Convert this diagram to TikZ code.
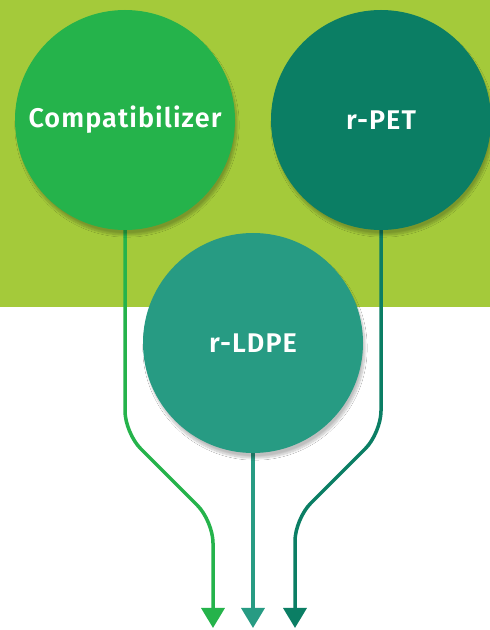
\documentclass[tikz,border=0pt]{standalone}
\usepackage{fontspec}
\setmainfont{Fira Sans}[BoldFont={Fira Sans SemiBold}]
\usetikzlibrary{arrows.meta,shadows.blur}
\definecolor{lime}{HTML}{A4CA3A}
\definecolor{compgreen}{HTML}{25B34B}
\definecolor{petgreen}{HTML}{0B7E64}
\definecolor{ldpegreen}{HTML}{279B83}
\pgfdeclarelayer{bg}
\pgfdeclarelayer{lines}
\pgfsetlayers{bg,lines,main}
\newfontfamily\labelfont{Fira Sans SemiBold}[LetterSpace=4]
\tikzset{
	material/.style={circle,minimum size=220pt,inner sep=0pt,text=white,
		font=\labelfont\fontsize{27}{30}\selectfont,
		blur shadow={shadow xshift=2pt,shadow yshift=-5pt,shadow blur steps=12,shadow opacity=25}},
	feed/.style={line width=3.5pt,rounded corners=22pt,-{Triangle[width=23pt,length=20pt]}}
}
\begin{document}
\begin{tikzpicture}[x=1pt,y=1pt]
		
		%Canvas size
		\def\w{490}
		\def\h{630}
		\useasboundingbox (0,0) rectangle (\w,\h);
		
		%Marking the materials
		\node[material,fill=compgreen] (comp) at (125,510) {Compatibilizer};
		\node[material,fill=petgreen] (pet) at (381,510) {r-PET};
		\node[material,fill=ldpegreen] (ldpe) at (253,287) {r-LDPE};
		
		%Marking arrow ends
		\coordinate (outcomp) at (213,2);
		\coordinate (outldpe) at (253,2);
		\coordinate (outpet) at (295,2);
		
		%Drawing background band
		\begin{pgfonlayer}{bg}
			\fill[white] (0,0) rectangle (\w,\h);
			\fill[lime] (0,323) rectangle (\w,\h);
		\end{pgfonlayer}
		
		%Drawing feed lines
		\begin{pgfonlayer}{lines}
			\draw[feed,compgreen] (comp.center) -- (comp.center |- 0,197) -- (outcomp |- 0,109) -- (outcomp);
			\draw[feed,ldpegreen] (ldpe.center) -- (outldpe);
			\draw[feed,petgreen] (pet.center) -- (pet.center |- 0,197) -- (outpet |- 0,111) -- (outpet);
		\end{pgfonlayer}
	\end{tikzpicture}
\end{document}
